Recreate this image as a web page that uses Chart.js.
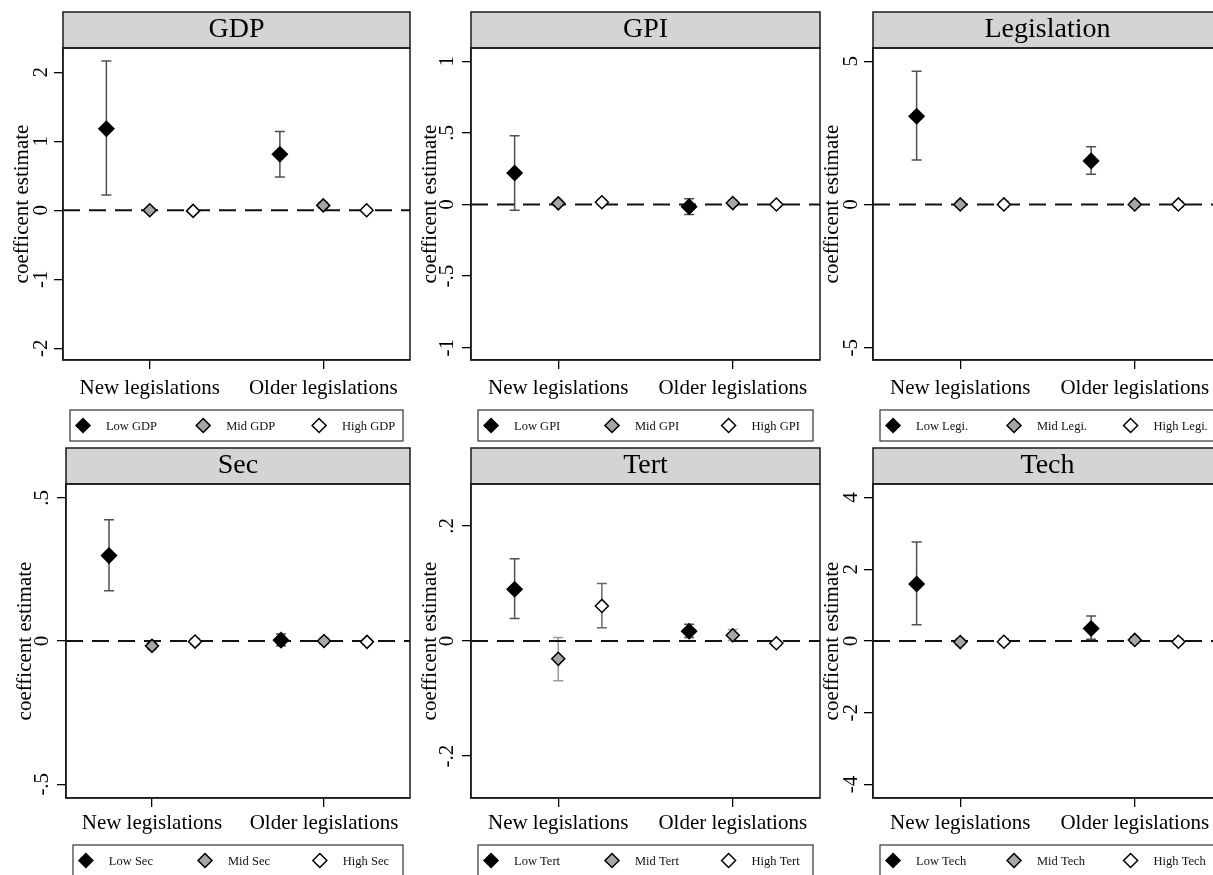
<!DOCTYPE html>
<html>
<head>
<meta charset="utf-8">
<script src="https://cdn.jsdelivr.net/npm/chart.js@4.4.0/dist/chart.umd.min.js"></script>
<style>
  html, body { margin: 0; padding: 0; background: #fff; overflow: hidden; }
  #wrap { position: relative; width: 1213px; height: 875px; overflow: hidden; }
  canvas { position: absolute; }
</style>
</head>
<body>
<div id="wrap"></div>
<script>
const categories = ['New legislations', 'Older legislations']
const panelTitles = ['GDP', 'GPI', 'Legislation', 'Sec', 'Tert', 'Tech']
const legendNames = [
  ['Low GDP', 'Mid GDP', 'High GDP'],
  ['Low GPI', 'Mid GPI', 'High GPI'],
  ['Low Legi.', 'Mid Legi.', 'High Legi.'],
  ['Low Sec', 'Mid Sec', 'High Sec'],
  ['Low Tert', 'Mid Tert', 'High Tert'],
  ['Low Tech', 'Mid Tech', 'High Tech']
]

// estimates per group [low, mid, high], each [new, older]
const gdpEst = [[1.18, 0.81], [0.0, 0.07], [-0.01, 0.0]]
const gdpLo = [[0.22, 0.48], [-0.03, 0.03], [-0.04, -0.03]]
const gdpHi = [[2.16, 1.14], [0.03, 0.11], [0.02, 0.03]]

const gpiEst = [[0.22, -0.015], [0.008, 0.01], [0.016, 0.0]]
const gpiLo = [[-0.04, -0.07], [-0.01, -0.01], [0.0, -0.015]]
const gpiHi = [[0.48, 0.04], [0.03, 0.03], [0.035, 0.015]]

const legEst = [[3.08, 1.52], [0.0, 0.0], [0.0, 0.0]]
const legLo = [[1.55, 1.05], [-0.1, -0.1], [-0.1, -0.1]]
const legHi = [[4.65, 2.01], [0.1, 0.1], [0.1, 0.1]]

const secEst = [[0.298, 0.003], [-0.017, 0.0], [-0.002, -0.003]]
const secLo = [[0.175, -0.017], [-0.03, -0.01], [-0.012, -0.012]]
const secHi = [[0.423, 0.024], [-0.004, 0.01], [0.008, 0.006]]

const tertEst = [[0.09, 0.017], [-0.031, 0.01], [0.061, -0.004]]
const tertLo = [[0.039, 0.006], [-0.069, 0.001], [0.023, -0.008]]
const tertHi = [[0.143, 0.029], [0.006, 0.02], [0.1, 0.0]]

const techEst = [[1.59, 0.35], [-0.03, 0.03], [-0.02, -0.02]]
const techLo = [[0.45, 0.05], [-0.12, -0.06], [-0.1, -0.1]]
const techHi = [[2.76, 0.7], [0.06, 0.12], [0.06, 0.06]]

// y axes
const yMins = [-2.17, -1.086, -5.43, -0.548, -0.273, -4.38]
const yMaxs = [2.35, 1.093, 5.46, 0.548, 0.273, 4.38]
const gdpTicks = [-2, -1, 0, 1, 2]
const gdpTickLabels = ['-2', '-1', '0', '1', '2']
const gpiTicks = [-1, -0.5, 0, 0.5, 1]
const gpiTickLabels = ['-1', '-.5', '0', '.5', '1']
const legTicks = [-5, 0, 5]
const legTickLabels = ['-5', '0', '5']
const secTicks = [-0.5, 0, 0.5]
const secTickLabels = ['-.5', '0', '.5']
const tertTicks = [-0.2, 0, 0.2]
const tertTickLabels = ['-.2', '0', '.2']
const techTicks = [-4, -2, 0, 2, 4]
const techTickLabels = ['-4', '-2', '0', '2', '4']

const estimates = [gdpEst, gpiEst, legEst, secEst, tertEst, techEst]
const lows = [gdpLo, gpiLo, legLo, secLo, tertLo, techLo]
const highs = [gdpHi, gpiHi, legHi, secHi, tertHi, techHi]
const tickVals = [gdpTicks, gpiTicks, legTicks, secTicks, tertTicks, techTicks]
const tickLabels = [gdpTickLabels, gpiTickLabels, legTickLabels, secTickLabels, tertTickLabels, techTickLabels]

const SERIF = '"Liberation Serif", "Times New Roman", serif'
const groupOffset = [-0.25, 0, 0.25]
const fills = ['#000000', '#a6a6a6', '#ffffff']
const radii = [7.5, 6.5, 6.5]
const errColors = ['#505050', '#9a9a9a', '#6a6a6a']

// canvas placement: [left, top, width, plot bottom]
const boxes = [
  [0, 0, 412, 360], [408, 0, 414, 360], [810, 0, 414, 360],
  [3, 436, 409, 362], [408, 436, 414, 362], [810, 436, 414, 362]
]

function decor(names, legendGap) {
  return {
    id: 'decor',
    beforeDraw(chart) {
      const { ctx, chartArea: a } = chart
      const t = chart.titleBlock
      ctx.save()
      ctx.fillStyle = '#d4d4d4'
      ctx.fillRect(a.left, t.top, a.right - a.left, a.top - t.top)
      ctx.strokeStyle = '#1a1a1a'
      ctx.lineWidth = 1.5
      ctx.strokeRect(a.left, t.top, a.right - a.left, a.top - t.top)
      ctx.restore()
    },
    beforeDatasetsDraw(chart) {
      const { ctx } = chart
      const xs = chart.scales.x
      const ys = chart.scales.y
      ctx.save()
      ctx.lineWidth = 1.5
      chart.data.datasets.forEach(ds => {
        if (!ds.errLo) return
        ctx.strokeStyle = ds.errColor
        ds.data.forEach((p, j) => {
          const px = xs.getPixelForValue(p.x)
          const y1 = ys.getPixelForValue(ds.errLo[j])
          const y2 = ys.getPixelForValue(ds.errHi[j])
          ctx.beginPath()
          ctx.moveTo(px, y1); ctx.lineTo(px, y2)
          ctx.moveTo(px - 5, y1); ctx.lineTo(px + 5, y1)
          ctx.moveTo(px - 5, y2); ctx.lineTo(px + 5, y2)
          ctx.stroke()
        })
      })
      ctx.restore()
    },
    afterDraw(chart) {
      const { ctx, chartArea: a } = chart
      ctx.save()
      ctx.strokeStyle = '#1a1a1a'
      ctx.lineWidth = 1.5
      ctx.strokeRect(a.left, a.top, a.right - a.left, a.bottom - a.top)
      // legend box
      const bx = a.left + 7
      const bw = a.right - a.left - 14
      const by = a.bottom + legendGap
      const bh = 31
      ctx.lineWidth = 1.2
      ctx.strokeStyle = '#333'
      ctx.strokeRect(bx, by, bw, bh)
      const fr = [0.039, 0.4, 0.748]
      names.forEach((n, g) => {
        const cx = bx + fr[g] * bw
        const cy = by + bh / 2
        ctx.beginPath()
        ctx.moveTo(cx - 7, cy); ctx.lineTo(cx, cy - 7)
        ctx.lineTo(cx + 7, cy); ctx.lineTo(cx, cy + 7)
        ctx.closePath()
        ctx.fillStyle = fills[g]
        ctx.fill()
        ctx.strokeStyle = '#000'
        ctx.lineWidth = 1.5
        ctx.stroke()
        ctx.fillStyle = '#111'
        ctx.font = '12.5px ' + SERIF
        ctx.textBaseline = 'middle'
        ctx.fillText(n, cx + 23, cy + 1)
      })
      ctx.restore()
    }
  }
}

const wrap = document.getElementById('wrap')

panelTitles.forEach((title, k) => {
  const row = k < 3 ? 0 : 1
  const [left, top, width, plotBottom] = boxes[k]
  const height = 444
  const cv = document.createElement('canvas')
  cv.width = width
  cv.height = height
  cv.style.left = left + 'px'
  cv.style.top = top + 'px'
  cv.style.width = width + 'px'
  cv.style.height = height + 'px'
  wrap.appendChild(cv)

  const est = estimates[k]
  const datasets = est.map((vals, g) => ({
    label: legendNames[k][g],
    data: vals.map((v, c) => ({ x: c + 1 + groupOffset[g], y: v })),
    pointStyle: 'rectRot',
    pointRadius: radii[g],
    pointBackgroundColor: fills[g],
    backgroundColor: fills[g],
    pointBorderColor: '#000',
    pointBorderWidth: 1.5,
    errLo: lows[k][g],
    errHi: highs[k][g],
    errColor: errColors[g]
  }))
  datasets.push({
    label: 'zero',
    data: [{ x: 0.5, y: 0 }, { x: 2.5, y: 0 }],
    showLine: true,
    borderColor: '#111',
    borderWidth: 2,
    borderDash: [17, 9],
    pointRadius: 0
  })

  const xPad = row === 0 ? 6.4 : 3.5
  const xHeight = 9 + xPad + 25.2
  const bottomPad = height - plotBottom - xHeight
  const legendGap = row === 0 ? 50 : 47
  const axisFont = { family: SERIF, size: 21 }

  new Chart(cv, {
    type: 'scatter',
    data: { datasets },
    options: {
      responsive: false,
      animation: false,
      layout: { autoPadding: false, padding: { top: 12, left: 0, right: 2, bottom: bottomPad } },
      plugins: {
        legend: { display: false },
        tooltip: { enabled: false },
        title: {
          display: true,
          text: title,
          fullSize: false,
          color: '#000',
          font: { family: SERIF, size: 28, weight: 'normal', lineHeight: 1 },
          padding: { top: 4, bottom: 4 }
        }
      },
      scales: {
        x: {
          type: 'linear',
          min: 0.5,
          max: 2.5,
          afterBuildTicks: s => { s.ticks = categories.map((c, i) => ({ value: i + 1 })) },
          afterFit: s => {
            s.height = xHeight
            s.paddingLeft = 0
            s.paddingRight = 0
          },
          ticks: {
            callback: v => categories[Math.round(v) - 1],
            font: axisFont,
            color: '#000',
            padding: xPad,
            maxRotation: 0,
            autoSkip: false
          },
          grid: { drawOnChartArea: false, tickLength: 9, color: '#000', lineWidth: 1.3 },
          border: { color: '#1a1a1a', width: 1.5 }
        },
        y: {
          min: yMins[k],
          max: yMaxs[k],
          afterBuildTicks: s => { s.ticks = tickVals[k].map(v => ({ value: v })) },
          afterFit: s => {
            s.width = 63
            s.paddingTop = 0
            s.paddingBottom = 0
          },
          ticks: {
            callback: (v, i) => tickLabels[k][i],
            font: axisFont,
            color: '#000',
            minRotation: 90,
            maxRotation: 90,
            crossAlign: 'center',
            padding: 3.6
          },
          title: {
            display: true,
            text: 'coefficent estimate',
            color: '#000',
            font: axisFont,
            padding: { top: 9.4, bottom: -9.4 }
          },
          grid: { drawOnChartArea: false, tickLength: 9, color: '#000', lineWidth: 1.3 },
          border: { color: '#1a1a1a', width: 1.5 }
        }
      }
    },
    plugins: [decor(legendNames[k], legendGap)]
  })
})
</script>
</body>
</html>
